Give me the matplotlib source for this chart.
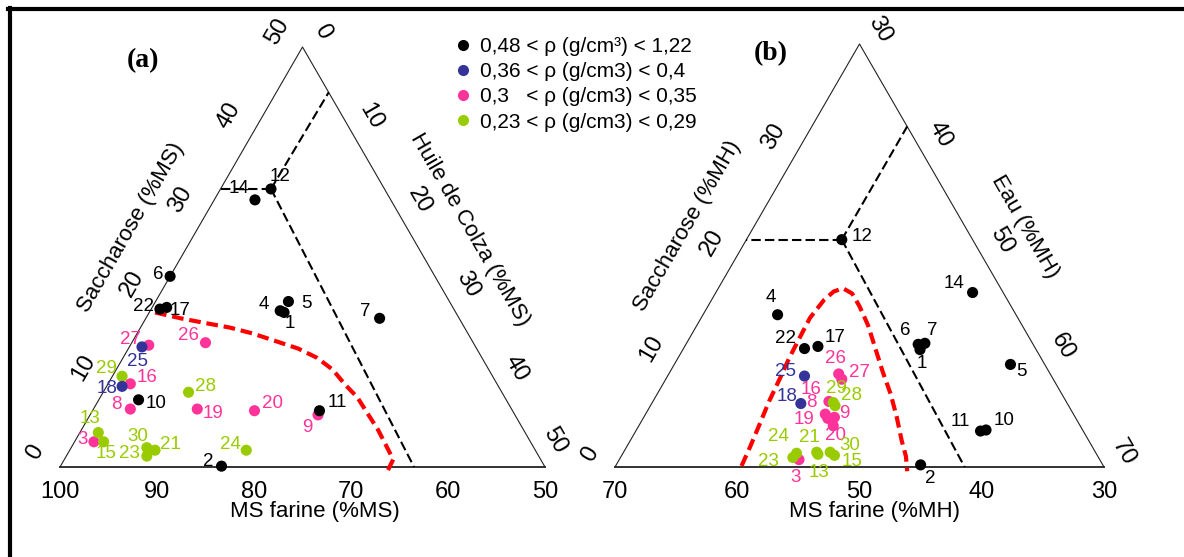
import matplotlib
matplotlib.use('Agg')
import matplotlib.pyplot as plt
from matplotlib.lines import Line2D
import numpy as np

plt.rcParams['font.family'] = ['Liberation Sans', 'DejaVu Sans']

# --- data -------------------------------------------------------------
samples = list(range(1, 31))
# density class of each sample (k: 0.48-1.22, b: 0.36-0.4, p: 0.3-0.35, g: 0.23-0.29)
density_class = ['k', 'k', 'p', 'k', 'k', 'k', 'k', 'p', 'p', 'k',
                 'k', 'k', 'g', 'k', 'g', 'p', 'k', 'b', 'p', 'p',
                 'g', 'k', 'g', 'g', 'b', 'p', 'p', 'g', 'g', 'g']

# (a) dry basis: saccharose and huile de colza (%MS)
sucrose_ms = [18.4, 0.1, 3.0, 18.6, 19.7, 22.7, 17.7, 6.9, 6.2, 8.0,
              6.7, 33.1, 4.1, 31.8, 3.0, 9.9, 19.0, 9.6, 6.9, 6.7,
              2.0, 18.8, 1.3, 2.0, 14.3, 14.8, 14.5, 8.9, 10.8, 2.3]
oil_ms = [13.9, 16.6, 2.0, 13.4, 13.7, 0.0, 24.1, 3.8, 23.5, 4.1,
          23.4, 5.2, 1.9, 4.2, 3.0, 2.3, 1.5, 1.6, 10.7, 16.7,
          8.8, 0.9, 8.3, 18.2, 1.3, 7.6, 1.9, 8.8, 1.0, 7.8]

# (b) wet basis: saccharose and eau (%MH)
sucrose_mh = [11.1, 0.2, 0.7, 14.4, 9.7, 11.6, 11.7, 5.0, 4.7, 3.5,
              3.4, 21.5, 1.2, 16.5, 1.1, 6.2, 11.4, 6.0, 4.6, 3.9,
              1.4, 11.2, 0.9, 1.3, 8.6, 8.8, 8.3, 5.8, 6.1, 1.4]
water_mh = [49.4, 54.9, 44.7, 36.1, 57.5, 49.0, 49.5, 44.7, 45.6, 58.6,
            58.2, 37.8, 46.0, 51.0, 47.4, 44.4, 40.9, 42.2, 45.1, 45.9,
            45.8, 39.9, 44.1, 44.2, 41.2, 43.9, 44.4, 45.1, 44.8, 46.9]

# red dashed limit curves
curve_a_sucrose = [18.4, 17.7, 17.1, 16.6, 15.9, 15.0, 14.1, 13.0, 11.6, 9.8,
                   8.3, 6.3, 4.4, 2.6, 0.9, -0.4]
curve_a_oil = [0.6, 3.6, 6.6, 9.2, 11.9, 14.7, 17.5, 20.0, 22.3, 24.5,
               26.5, 28.6, 30.6, 32.3, 33.9, 34.0]
curve_b_sucrose = [0.1, 1.9, 4.1, 6.2, 8.4, 10.3, 12.1, 14.1, 15.8, 16.6, 16.9,
                   16.4, 15.2, 13.4, 11.2, 9.0, 6.9, 4.7, 2.5, 1.0, -0.4]
curve_b_water = [40.3, 40.1, 39.8, 39.5, 39.3, 39.1, 39.0, 38.9, 39.2, 39.6, 40.2,
                 41.2, 42.4, 44.0, 45.7, 47.4, 49.1, 50.7, 52.2, 53.3, 54.1]

# black dashed lines from sample 12 to the three sides
crit_a_sucrose = [33.1, 44.6, 0.0]
crit_a_oil = [0.0, 5.4, 36.5]
crit_b_sucrose = [21.5, 32.2, 0.0]
crit_b_water = [30.0, 37.8, 58.6]

# axis tick values
ticks_a_farine = [100, 90, 80, 70, 60, 50]
ticks_a_sucrose = [0, 10, 20, 30, 40, 50]
ticks_a_oil = [0, 10, 20, 30, 40, 50]
ticks_b_farine = [70, 60, 50, 40, 30]
ticks_b_sucrose = [0, 10, 20, 30]
ticks_b_water = [30, 40, 50, 60, 70]

legend_labels = {
    'k': '0,48 < ρ (g/cm³) < 1,22',
    'b': '0,36 < ρ (g/cm3) < 0,4',
    'p': '0,3   < ρ (g/cm3) < 0,35',
    'g': '0,23 < ρ (g/cm3) < 0,29',
}

# --- styles -----------------------------------------------------------
colors = {'k': '#000000', 'b': '#333399', 'p': '#ff3399', 'g': '#99cc00'}
zorders = {'p': 3, 'g': 4, 'b': 5, 'k': 6}

# label offsets (pixels) for each sample number
offs_a = {1: (6, -11), 2: (-13, 5), 3: (-11, 2), 4: (-16, 6), 5: (18, -2),
          6: (-12, 2), 7: (-14, 7), 8: (-14, 5), 9: (-11, -13), 10: (17, -4),
          11: (18, 8), 12: (9, 12), 13: (-8, 14), 14: (-16, 11), 15: (2, -12),
          16: (17, 6), 17: (13, -3), 18: (-15, -2), 19: (16, -4), 20: (18, 7),
          21: (15, 6), 22: (-16, 3), 23: (-17, 3), 24: (-16, 6), 25: (-4, -15),
          26: (-17, 7), 27: (-18, 6), 28: (17, 6), 29: (-16, 8), 30: (-9, 11)}
offs_b = {1: (2, -14), 2: (10, -14), 3: (-3, -18), 4: (-7, 17), 5: (11, -7),
          6: (-13, 14), 7: (7, 13), 8: (-14, 12), 9: (10, 4), 10: (18, 9),
          11: (-20, 10), 12: (20, 3), 13: (1, -18), 14: (-19, 9), 15: (18, -6),
          16: (-18, 12), 17: (17, 9), 18: (-14, 7), 19: (-24, -1), 20: (2, -10),
          21: (-7, 15), 22: (-19, 10), 23: (-24, -4), 24: (-18, 17), 25: (-19, 5),
          26: (-3, 15), 27: (18, 7), 28: (16, 10), 29: (3, 14), 30: (20, 7)}

H = np.sqrt(3) / 2
W, HH = 1184, 557


def to_xy(s, c, s_span, c_min, c_span):
    b = np.asarray(s, float) / s_span
    cc = (np.asarray(c, float) - c_min) / c_span
    return cc + b / 2, b * H


fig = plt.figure(figsize=(W / 100, HH / 100), dpi=100)
fig.patch.set_facecolor('white')

# frame (top and left)
fig.add_artist(Line2D([8 / W, 1], [1 - 9 / HH] * 2, transform=fig.transFigure,
                      color='black', lw=3))
fig.add_artist(Line2D([10 / W] * 2, [0, 1 - 8 / HH], transform=fig.transFigure,
                      color='black', lw=3))


def panel(rect, s_vals, c_vals, s_span, c_min, c_span, curve_s, curve_c,
          crit_s, crit_c, offs):
    ax = fig.add_axes(rect)
    ax.set_xlim(0, 1)
    ax.set_ylim(0, H)
    ax.axis('off')
    tri = lambda s, c: to_xy(s, c, s_span, c_min, c_span)
    # triangle
    vx, vy = tri([0, s_span, 0, 0], [c_min, c_min, c_min + c_span, c_min])
    ax.plot(vx[:3], vy[:3], color='#222222', lw=0.8, clip_on=False)
    ax.plot(vx[2:], vy[2:], color='#222222', lw=1.3, clip_on=False)
    # dashed lines through point 12
    i12 = samples.index(12)
    for s_end, c_end in zip(crit_s, crit_c):
        lx, ly = tri([s_vals[i12], s_end], [c_vals[i12], c_end])
        ax.plot(lx, ly, color='black', lw=1.5, ls=(0, (4.5, 2)), clip_on=False, zorder=2)
    # red limit curve
    cx, cy = tri(curve_s, curve_c)
    ax.plot(cx, cy, color='#ff0000', lw=3, ls=(0, (2.8, 1.4)), clip_on=False, zorder=2)
    # points and labels
    px, py = tri(s_vals, c_vals)
    for i, n in enumerate(samples):
        k = density_class[i]
        ax.scatter(px[i], py[i], s=64, color=colors[k], edgecolors='none',
                   zorder=zorders[k], clip_on=False)
        ax.annotate(str(n), (px[i], py[i]), xytext=offs[n], textcoords='offset pixels',
                    ha='center', va='center', fontsize=13.5, color=colors[k],
                    zorder=7, annotation_clip=False)
    return ax, tri


def tick_text(ax, xy, text, off, rot, size=17):
    ax.annotate(text, xy, xytext=off, textcoords='offset pixels', ha='center',
                va='center', rotation=rot, fontsize=size, rotation_mode='anchor',
                annotation_clip=False)


# --- panel (a) --------------------------------------------------------
ax_a, tri_a = panel([60 / W, 90 / HH, 485 / W, 420 / HH], sucrose_ms, oil_ms,
                    50, 0, 50, curve_a_sucrose, curve_a_oil,
                    crit_a_sucrose, crit_a_oil, offs_a)
for f in ticks_a_farine:
    tick_text(ax_a, tri_a(0, 100 - f), str(f), (0, -25), 0)
for s in ticks_a_sucrose:
    tick_text(ax_a, tri_a(s, 0), str(s), (-25, 15), 60)
for o in ticks_a_oil:
    off = (10, 27) if o == 50 else (20, 15)
    tick_text(ax_a, tri_a(50 - o, o), str(o), off, -60)
tick_text(ax_a, tri_a(0, 25), 'MS farine (%MS)', (12, -45), 0, 16)
tick_text(ax_a, tri_a(25, 0), 'Saccharose (%MS)', (-50, 29), 60, 16)
tick_text(ax_a, tri_a(25, 25), 'Huile de Colza (%MS)', (46, 27), -60, 16)
ax_a.annotate('(a)', tri_a(50, 0), xytext=(-159, -14), textcoords='offset pixels',
              ha='center', va='center', fontsize=20, fontweight='bold',
              family='Liberation Serif', annotation_clip=False)

# --- panel (b) --------------------------------------------------------
ax_b, tri_b = panel([615 / W, 90 / HH, 489 / W, 423 / HH], sucrose_mh, water_mh,
                    40, 30, 40, curve_b_sucrose, curve_b_water,
                    crit_b_sucrose, crit_b_water, offs_b)
for f in ticks_b_farine:
    tick_text(ax_b, tri_b(0, 100 - f), str(f), (0, -25), 0)
for s in ticks_b_sucrose:
    tick_text(ax_b, tri_b(s, 30), str(s), (-25, 13), 60)
for w in ticks_b_water:
    tick_text(ax_b, tri_b(70 - w, w), str(w), (20, 15), -60)
tick_text(ax_b, tri_b(0, 50), 'MS farine (%MH)', (15, -45), 0, 16)
tick_text(ax_b, tri_b(20, 30), 'Saccharose (%MH)', (-50, 29), 60, 16)
tick_text(ax_b, tri_b(20, 50), 'Eau (%MH)', (43, 29), -60, 16)
ax_b.annotate('(b)', tri_b(40, 30), xytext=(-89, -10), textcoords='offset pixels',
              ha='center', va='center', fontsize=20, fontweight='bold',
              family='Liberation Serif', annotation_clip=False)

# --- legend -----------------------------------------------------------
handles = [Line2D([], [], ls='none', marker='o', markersize=8, color=colors[k],
                  markeredgecolor='none') for k in legend_labels]
fig.legend(handles, list(legend_labels.values()), loc='upper left',
           bbox_to_anchor=(456 / W, 1 - 37 / HH), frameon=False, fontsize=15,
           handlelength=0.7, handletextpad=0.45, labelspacing=0.3,
           borderpad=0, borderaxespad=0)

fig.savefig('out.png', dpi=100, facecolor='white')
